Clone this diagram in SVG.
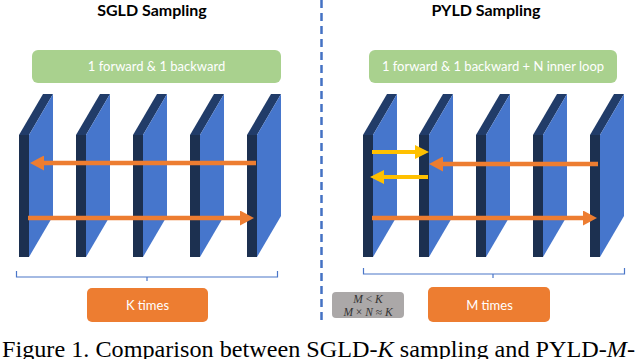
<svg xmlns="http://www.w3.org/2000/svg" width="640" height="359" viewBox="0 0 640 359">
<style>
.title{font-family:Lato,"Open Sans",sans-serif;font-weight:700;font-size:16px;fill:#000;text-anchor:middle}
.lbl{font-family:Lato,"Open Sans",sans-serif;font-size:13px;fill:#fff;text-anchor:middle}
.math{font-family:"Liberation Serif",serif;font-size:11.5px;fill:#333;text-anchor:middle}
.cap{font-family:"Liberation Serif",serif;font-size:22.5px;fill:#000}
.dark{fill:#1C3050}
.bevel{fill:#213C69}
.face{fill:#4676CC}
.orange{stroke:#ED7D31;stroke-width:4.5;fill:none}
.yellow{stroke:#FFC000;stroke-width:4;fill:none}
.brace{stroke:#4A76C8;stroke-width:1.2;fill:none}
</style>
<defs>
<g id="plate">
<polygon class="bevel" points="0,135 24,94 34,94 10,135"/>
<polygon class="face" points="10,135 34,94 34,216 10,257"/>
<rect class="dark" x="0" y="135" width="10" height="122"/>
</g>
<marker id="ho" markerUnits="userSpaceOnUse" markerWidth="15" markerHeight="15" refX="0" refY="7.5" orient="auto">
<path d="M0,0 L14,7.5 L0,15 z" fill="#ED7D31"/>
</marker>
<marker id="hy" markerUnits="userSpaceOnUse" markerWidth="15" markerHeight="14" refX="0" refY="7" orient="auto">
<path d="M0,0 L14,7 L0,14 z" fill="#FFC000"/>
</marker>
</defs>

<g id="title-sgld"><text class="title" x="152" y="16">SGLD Sampling</text></g>
<g id="title-pyld"><text class="title" x="486" y="16">PYLD Sampling</text></g>

<g id="divider"><line x1="321.5" y1="0" x2="321.5" y2="324" stroke="#4472C4" stroke-width="2.5" stroke-dasharray="8 5"/></g>

<g id="box-sgld-cost">
<rect x="32" y="50" width="249" height="33" rx="6" fill="#A9D18E"/>
<text class="lbl" x="156.5" y="71">1 forward &amp; 1 backward</text>
</g>
<g id="box-pyld-cost">
<rect x="369" y="50" width="248" height="33" rx="6" fill="#A9D18E"/>
<text class="lbl" x="493" y="71">1 forward &amp; 1 backward + N inner loop</text>
</g>

<g id="sgld-plate-1"><use href="#plate" x="19"/></g>
<g id="sgld-plate-2"><use href="#plate" x="76"/></g>
<g id="sgld-plate-3"><use href="#plate" x="133"/></g>
<g id="sgld-plate-4"><use href="#plate" x="190"/></g>
<g id="sgld-plate-5"><use href="#plate" x="247"/></g>

<g id="pyld-plate-1"><use href="#plate" x="363"/></g>
<g id="pyld-plate-2"><use href="#plate" x="419"/></g>
<g id="pyld-plate-3"><use href="#plate" x="476"/></g>
<g id="pyld-plate-4"><use href="#plate" x="533"/></g>
<g id="pyld-plate-5"><use href="#plate" x="590"/></g>

<g id="connectors">
<line class="orange" x1="256" y1="163" x2="44" y2="163" marker-end="url(#ho)"/>
<line class="orange" x1="28" y1="218" x2="240" y2="218" marker-end="url(#ho)"/>
<line class="orange" x1="598" y1="164" x2="443" y2="164" marker-end="url(#ho)"/>
<line class="orange" x1="372" y1="218" x2="583" y2="218" marker-end="url(#ho)"/>
<line class="yellow" x1="372" y1="152" x2="415" y2="152" marker-end="url(#hy)"/>
<line class="yellow" x1="428" y1="177" x2="384" y2="177" marker-end="url(#hy)"/>
</g>

<g id="brace-sgld"><path class="brace" d="M16.5,271 V277 H277.5 V271 M147,277 V281"/></g>
<g id="brace-pyld"><path class="brace" d="M363.5,268 V274 H624.5 V268 M493,274 V278"/></g>

<g id="box-k-times">
<rect x="87" y="288" width="121" height="34" rx="5" fill="#ED7D31"/>
<text class="lbl" x="147.5" y="310">K times</text>
</g>
<g id="box-m-times">
<rect x="428" y="287" width="122" height="35" rx="5" fill="#ED7D31"/>
<text class="lbl" x="489.5" y="310">M times</text>
</g>
<g id="box-constraint">
<rect x="332" y="292" width="72" height="26" rx="4" fill="#ABA8A8"/>
<text class="math" x="368" y="303"><tspan font-style="italic">M</tspan> &lt; <tspan font-style="italic">K</tspan></text>
<text class="math" x="368" y="315.5"><tspan font-style="italic">M</tspan> × <tspan font-style="italic">N</tspan> ≈ <tspan font-style="italic">K</tspan></text>
</g>

<text class="cap" x="2" y="357" textLength="633" lengthAdjust="spacingAndGlyphs">Figure 1. Comparison between SGLD-<tspan font-style="italic">K</tspan> sampling and PYLD-<tspan font-style="italic">M</tspan>-</text>
</svg>
